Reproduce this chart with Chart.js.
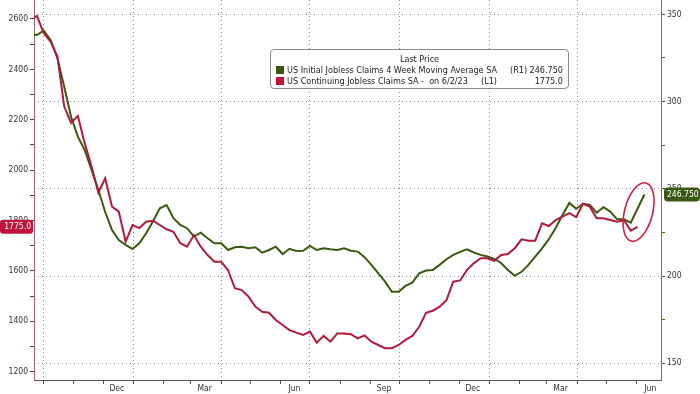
<!DOCTYPE html>
<html>
<head>
<meta charset="utf-8">
<script src="https://cdn.jsdelivr.net/npm/chart.js@4.4.1/dist/chart.umd.min.js"></script>
<style>
  html, body { margin: 0; padding: 0; background: #fff; }
  #wrap { position: relative; width: 700px; height: 394px; }
  #legend {
    position: absolute; left: 270px; top: 49px; width: 297px; height: 38px;
    border: 1px solid #8a8a8a; border-radius: 4px; background: #fff;
    font: 9px 'DejaVu Sans Condensed', 'DejaVu Sans', sans-serif; color: #222;
  }
  #legend .title { position: absolute; top: 4px; left: 0; width: 100%; text-align: center; }
  #legend .row { position: absolute; left: 5px; right: 5px; height: 11px; line-height: 11px; white-space: pre; }
  #legend .sw { display: inline-block; width: 8px; height: 8px; vertical-align: -1px; margin-right: 3px; }
  #legend .tag { position: absolute; top: 0; }
  #legend .val { position: absolute; right: 0; top: 0; }
</style>
</head>
<body>
<div id="wrap">
  <canvas id="c"></canvas>
  <div id="legend">
    <div class="title">Last Price</div>
    <div class="row" style="top:15px"><span class="sw" style="background:#3b5812"></span>US Initial Jobless Claims 4 Week Moving Average SA<span class="tag" style="left:234px">(R1)</span><span class="val" id="vGreen"></span></div>
    <div class="row" style="top:26px"><span class="sw" style="background:#c0143c"></span>US Continuing Jobless Claims SA -  on 6/2/23<span class="tag" style="left:205px">(L1)</span><span class="val" id="vRed"></span></div>
  </div>
</div>
<script>
// weekly observations, starting with the week of 2021-09-17
const firstWeek = '2021-09-17';

// US Continuing Jobless Claims SA, thousands (left axis)
const continuingClaims = [
  2592, 2612, 2543, 2510, 2451, 2252, 2187, 2215, 2107, 2014,
  1910, 1968, 1855, 1835, 1716, 1782, 1770, 1795, 1799, 1782,
  1765, 1755, 1710, 1696, 1742, 1696, 1663, 1636, 1636, 1603,
  1531, 1524, 1498, 1458, 1438, 1434, 1405, 1385, 1365, 1355,
  1346, 1359, 1315, 1342, 1319, 1352, 1352, 1349, 1332, 1344,
  1319, 1306, 1293, 1293, 1306, 1326, 1342, 1378, 1434, 1442,
  1458, 1484, 1557, 1562, 1604, 1630, 1650, 1650, 1640, 1663,
  1667, 1690, 1725, 1720, 1720, 1789, 1778, 1802, 1815, 1829,
  1813, 1866, 1855, 1809, 1809, 1802, 1795, 1801, 1760, 1775
];

// US Initial Jobless Claims 4 Week Moving Average SA, thousands (right axis)
const initialClaims4wk = [
  338.7, 338.1, 340.6, 335.3, 324.8, 308.5, 291.3, 279.9, 272.2, 260.8,
  249.3, 236.7, 226.4, 220.6, 217.8, 215.5, 218.8, 224.5, 231.2, 238.8,
  240.7, 233.1, 229.3, 227.4, 222.6, 224.8, 221.6, 218.8, 218.8, 214.9,
  216.5, 216.8, 215.9, 216.5, 213.4, 214.9, 216.8, 212.6, 215.6, 214.3,
  214.5, 217.2, 214.9, 215.9, 215.3, 214.9, 215.9, 214.5, 214.0, 210.8,
  206.4, 201.6, 196.8, 191.0, 191.0, 194.3, 196.2, 201.6, 203.1, 203.5,
  206.4, 209.6, 212.1, 213.8, 215.3, 213.5, 212.1, 211.2, 209.8, 207.5,
  203.5, 200.1, 202.4, 206.4, 211.1, 215.9, 221.1, 227.5, 235.0, 241.9,
  238.5, 241.4, 240.8, 236.3, 239.4, 236.9, 232.5, 232.5, 230.6, 238.7,
  246.75
];

// x axis: visible range, month labels, month tick marks, quarter grid lines
const xStart = '2021-09-21';
const xEnd = '2023-06-26';
const monthLabelDates = ['2021-12-15', '2022-03-15', '2022-06-15', '2022-09-15', '2022-12-15', '2023-03-15', '2023-06-15'];
const monthLabels = ['Dec', 'Mar', 'Jun', 'Sep', 'Dec', 'Mar', 'Jun'];
const monthStarts = [
  '2021-10-01', '2021-11-01', '2021-12-01', '2022-01-01', '2022-02-01', '2022-03-01', '2022-04-01',
  '2022-05-01', '2022-06-01', '2022-07-01', '2022-08-01', '2022-09-01', '2022-10-01', '2022-11-01',
  '2022-12-01', '2023-01-01', '2023-02-01', '2023-03-01', '2023-04-01', '2023-05-01', '2023-06-01'
];
const quarterStarts = ['2021-10-01', '2022-01-01', '2022-04-01', '2022-07-01', '2022-10-01', '2023-01-01', '2023-04-01'];

// y axes
const leftMin = 1167, leftMax = 2675;
const leftTicks = [1200, 1300, 1400, 1500, 1600, 1700, 1800, 1900, 2000, 2100, 2200, 2300, 2400, 2500, 2600];
const leftLabels = [1200, 1400, 1600, 1800, 2000, 2200, 2400, 2600];
const rightMin = 140.4, rightMax = 358.2;
const rightTicks = [150, 175, 200, 225, 250, 275, 300, 325, 350];
const rightLabels = [150, 200, 250, 300, 350];

const RED = '#b01b3c';
const GREEN = '#3b5812';
const FONT = "'DejaVu Sans Condensed', 'DejaVu Sans', sans-serif";

const origin = Date.UTC(2021, 9, 1);
function dayOf(s) {
  const p = s.split('-').map(Number);
  return Math.round((Date.UTC(p[0], p[1] - 1, p[2]) - origin) / 86400000);
}
const firstDay = dayOf(firstWeek);
const redPts = continuingClaims.map((v, i) => ({ x: firstDay + 7 * i, y: v }));
const greenPts = initialClaims4wk.map((v, i) => ({ x: firstDay + 7 * i, y: v }));

const labelDays = monthLabelDates.map(dayOf);
const monthDays = monthStarts.map(dayOf);
const quarterDays = quarterStarts.map(dayOf);
const xTickDays = [...monthDays, ...labelDays].sort((a, b) => a - b);

const redLast = continuingClaims[continuingClaims.length - 1];
const greenLast = initialClaims4wk[initialClaims4wk.length - 1];
document.getElementById('vGreen').textContent = greenLast.toFixed(3);
document.getElementById('vRed').textContent = redLast.toFixed(1);

function roundRect(ctx, x, y, w, h, r) {
  ctx.beginPath();
  ctx.moveTo(x + r, y);
  ctx.lineTo(x + w - r, y);
  ctx.quadraticCurveTo(x + w, y, x + w, y + r);
  ctx.lineTo(x + w, y + h - r);
  ctx.quadraticCurveTo(x + w, y + h, x + w - r, y + h);
  ctx.lineTo(x + r, y + h);
  ctx.quadraticCurveTo(x, y + h, x, y + h - r);
  ctx.lineTo(x, y + r);
  ctx.quadraticCurveTo(x, y, x + r, y);
  ctx.closePath();
}

// no extra room for the outermost tick labels: plot fills the canvas edge to edge
function noPad(s) {
  s.paddingTop = 0; s.paddingBottom = 0; s.paddingLeft = 0; s.paddingRight = 0;
}

const markers = {
  id: 'markers',
  afterDraw(chart) {
    const { ctx, scales } = chart;
    ctx.save();
    // circled end of the lines
    const cx = scales.x.getPixelForValue(dayOf('2023-06-03'));
    const cy = scales.y1.getPixelForValue(236.7);
    ctx.strokeStyle = '#d0213f';
    ctx.lineWidth = 1.6;
    ctx.beginPath();
    ctx.ellipse(cx, cy, 14, 30, 0.25, 0, Math.PI * 2);
    ctx.stroke();

    // last value badges
    ctx.font = '8.5px ' + FONT;
    ctx.textBaseline = 'middle';
    const yl = scales.y.getPixelForValue(redLast);
    ctx.fillStyle = '#c0143c';
    roundRect(ctx, 0, yl - 7, scales.y.right - 1, 14, 3);
    ctx.fill();
    ctx.fillStyle = '#fff';
    ctx.textAlign = 'right';
    ctx.fillText(redLast.toFixed(1), scales.y.right - 3, yl + 0.5);

    const yr = scales.y1.getPixelForValue(greenLast);
    ctx.fillStyle = GREEN;
    roundRect(ctx, scales.y1.left + 3, yr - 7, chart.width - scales.y1.left - 3, 14, 4);
    ctx.fill();
    ctx.fillStyle = '#fff';
    ctx.textAlign = 'left';
    ctx.fillText(greenLast.toFixed(3), scales.y1.left + 6, yr + 0.5);
    ctx.restore();
  }
};

Chart.defaults.font.family = FONT;
Chart.defaults.font.size = 8.5;
Chart.defaults.color = '#333';

new Chart(document.getElementById('c'), {
  type: 'line',
  data: {
    datasets: [
      { label: 'US Continuing Jobless Claims SA', data: redPts, yAxisID: 'y', borderColor: RED, borderWidth: 2, pointRadius: 0, tension: 0 },
      { label: 'US Initial Jobless Claims 4 Week Moving Average SA', data: greenPts, yAxisID: 'y1', borderColor: GREEN, borderWidth: 2, pointRadius: 0, tension: 0 }
    ]
  },
  options: {
    responsive: true,
    maintainAspectRatio: false,
    devicePixelRatio: 1,
    animation: false,
    layout: { padding: 0 },
    plugins: { legend: { display: false }, tooltip: { enabled: false } },
    scales: {
      x: {
        type: 'linear',
        min: dayOf(xStart),
        max: dayOf(xEnd),
        afterBuildTicks: s => { s.ticks = xTickDays.map(v => ({ value: v })); },
        afterFit: s => { s.height = 14; noPad(s); },
        ticks: {
          autoSkip: false, maxRotation: 0, minRotation: 0, padding: 0,
          callback: v => { const i = labelDays.indexOf(v); return i >= 0 ? monthLabels[i] : ''; }
        },
        grid: {
          drawOnChartArea: true,
          color: c => (c.tick && quarterDays.includes(c.tick.value)) ? '#8c8c8c' : 'rgba(0,0,0,0)',
          tickColor: c => (c.tick && monthDays.includes(c.tick.value)) ? '#555' : 'rgba(0,0,0,0)',
          tickLength: 4,
          tickBorderDash: []
        },
        border: { color: '#555', dash: [1, 3] }
      },
      y: {
        position: 'left',
        min: leftMin,
        max: leftMax,
        afterBuildTicks: s => { s.ticks = leftTicks.map(v => ({ value: v })); },
        afterFit: s => { s.width = 34; noPad(s); },
        ticks: { autoSkip: false, padding: 2, callback: v => leftLabels.includes(v) ? String(v) : '' },
        grid: { drawOnChartArea: false, tickLength: 4, tickColor: '#7a3340' },
        border: { color: '#a8626c' }
      },
      y1: {
        position: 'right',
        min: rightMin,
        max: rightMax,
        afterBuildTicks: s => { s.ticks = rightTicks.map(v => ({ value: v })); },
        afterFit: s => { s.width = 39; noPad(s); },
        ticks: { autoSkip: false, padding: 2, callback: v => rightLabels.includes(v) ? String(v) : '' },
        grid: {
          drawOnChartArea: true,
          color: c => (c.tick && rightLabels.includes(c.tick.value)) ? '#8c8c8c' : 'rgba(0,0,0,0)',
          tickColor: '#4b6418',
          tickLength: 4,
          tickBorderDash: []
        },
        border: { color: '#6b7f3a', dash: [1, 3] }
      }
    }
  },
  plugins: [markers]
});
</script>
</body>
</html>
